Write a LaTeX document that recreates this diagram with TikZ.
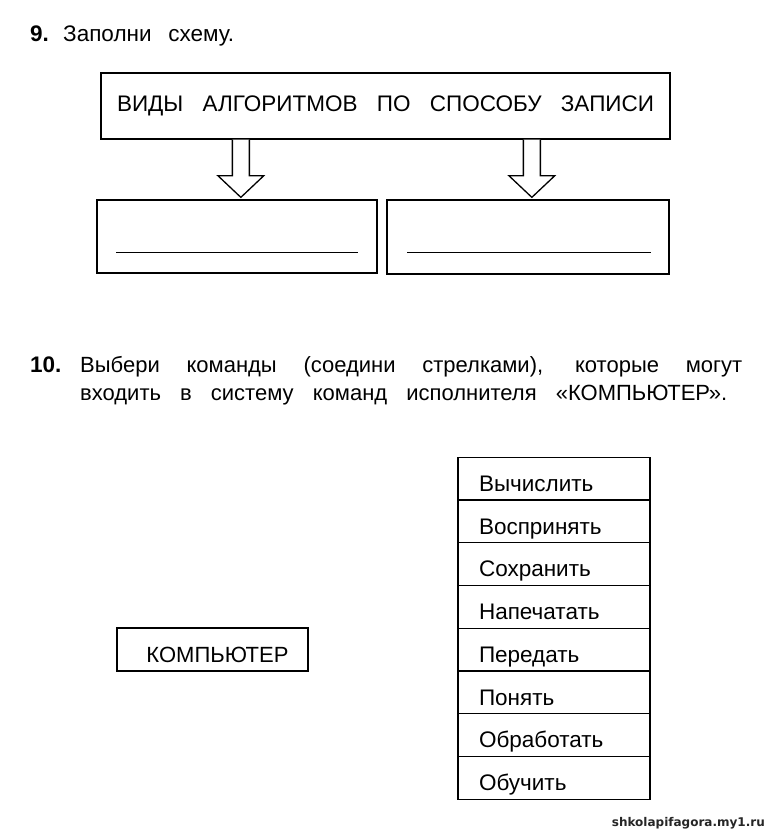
\documentclass[tikz,border=0pt]{standalone}
\usepackage{fontspec}
\setmainfont{Liberation Sans}
\newfontfamily\wmfont{DejaVu Sans}
\usetikzlibrary{calc}
\begin{document}
\begin{tikzpicture}[x=1pt,y=-1pt,
  lw/.style={line width=1.3pt},
  box/.style={draw, lw, inner sep=0pt},
  txt/.style={anchor=base west, inner sep=0pt},
  blockarrow/.style={draw, lw, fill=white, line join=miter},
  fillline/.style={line width=1pt},
  rowbox/.style={draw, lw, minimum width=192pt, minimum height=42.75pt, inner xsep=21pt, inner ysep=0pt,
    text height=34pt, text depth=8.5pt, text width=150pt, align=left, font=\fontsize{22.5}{26}\selectfont}
]
\useasboundingbox (0,0) rectangle (768,832);
\fill[white] (0,0) rectangle (768,832);

% ---- Task 9 ----
\node[txt, font=\fontsize{22.5}{26}\selectfont\bfseries] (n9) at (30,42) {9.};
\node[txt, font=\fontsize{22.5}{26}\selectfont] (t9) at (63,42) {\makebox[171pt][s]{Заполни схему.}};

\node[box, minimum width=569pt, minimum height=66pt, font=\fontsize{22.5}{26}\selectfont] (top) at (385.5,106)
  {\makebox[537pt][s]{ВИДЫ АЛГОРИТМОВ ПО СПОСОБУ ЗАПИСИ}};

\node[box, minimum width=280pt, minimum height=73pt] (left) at (237,236.5) {};
\node[box, minimum width=282pt, minimum height=74pt] (right) at (528,237) {};

\coordinate (a1) at ($(top.south west)+(140.5,0)$);
\coordinate (a2) at ($(top.south west)+(431.5,0)$);
\foreach \a/\b in {a1/left, a2/right}{
  \draw[blockarrow] ($(\a)+(-8.5,0)$) -- ($(\a)+(-8.5,36)$) -- ($(\a)+(-23,36)$)
    -- ($(\a |- \b.north)+(0,-2)$) -- ($(\a)+(23,36)$) -- ($(\a)+(8.5,36)$) -- ($(\a)+(8.5,0)$);
}

\coordinate (l1a) at ($(left.west)+(20,15.5)$);
\coordinate (l1b) at ($(left.east)+(-20,15.5)$);
\draw[fillline] (l1a) -- (l1b);
\coordinate (l2a) at ($(right.west)+(21,15)$);
\coordinate (l2b) at ($(right.east)+(-19,15)$);
\draw[fillline] (l2a) -- (l2b);

% ---- Task 10 ----
\node[txt, font=\fontsize{22.5}{26}\selectfont\bfseries] (n10) at (30,372) {10.};
\node[txt, font=\fontsize{22}{26}\selectfont] (l1) at (80,372)
  {\makebox[662pt][s]{Выбери команды (соедини стрелками), которые могут}};
\node[txt, font=\fontsize{22}{26}\selectfont] (l2) at (80,400)
  {\makebox[647pt][s]{входить в систему команд исполнителя «КОМПЬЮТЕР».}};

\node[box, minimum width=191pt, minimum height=43pt, text height=34pt, text depth=9pt,
  font=\fontsize{22}{26}\selectfont] (comp) at (212.5,649.5) {\hspace*{10pt}КОМПЬЮТЕР};

\foreach \t [count=\i from 0] in {Вычислить, Воспринять, Сохранить, Напечатать, Передать, Понять, Обработать, Обучить}{
  \node[rowbox] (r\i) at (554, 457.3+21.375+\i*42.75) {\t};
}

% watermark
\node[anchor=base east, inner sep=0pt, font=\wmfont\fontsize{12}{14}\selectfont\bfseries, text=black!85] (wm) at (765,826) {shkolapifagora.my1.ru};
\end{tikzpicture}
\end{document}
